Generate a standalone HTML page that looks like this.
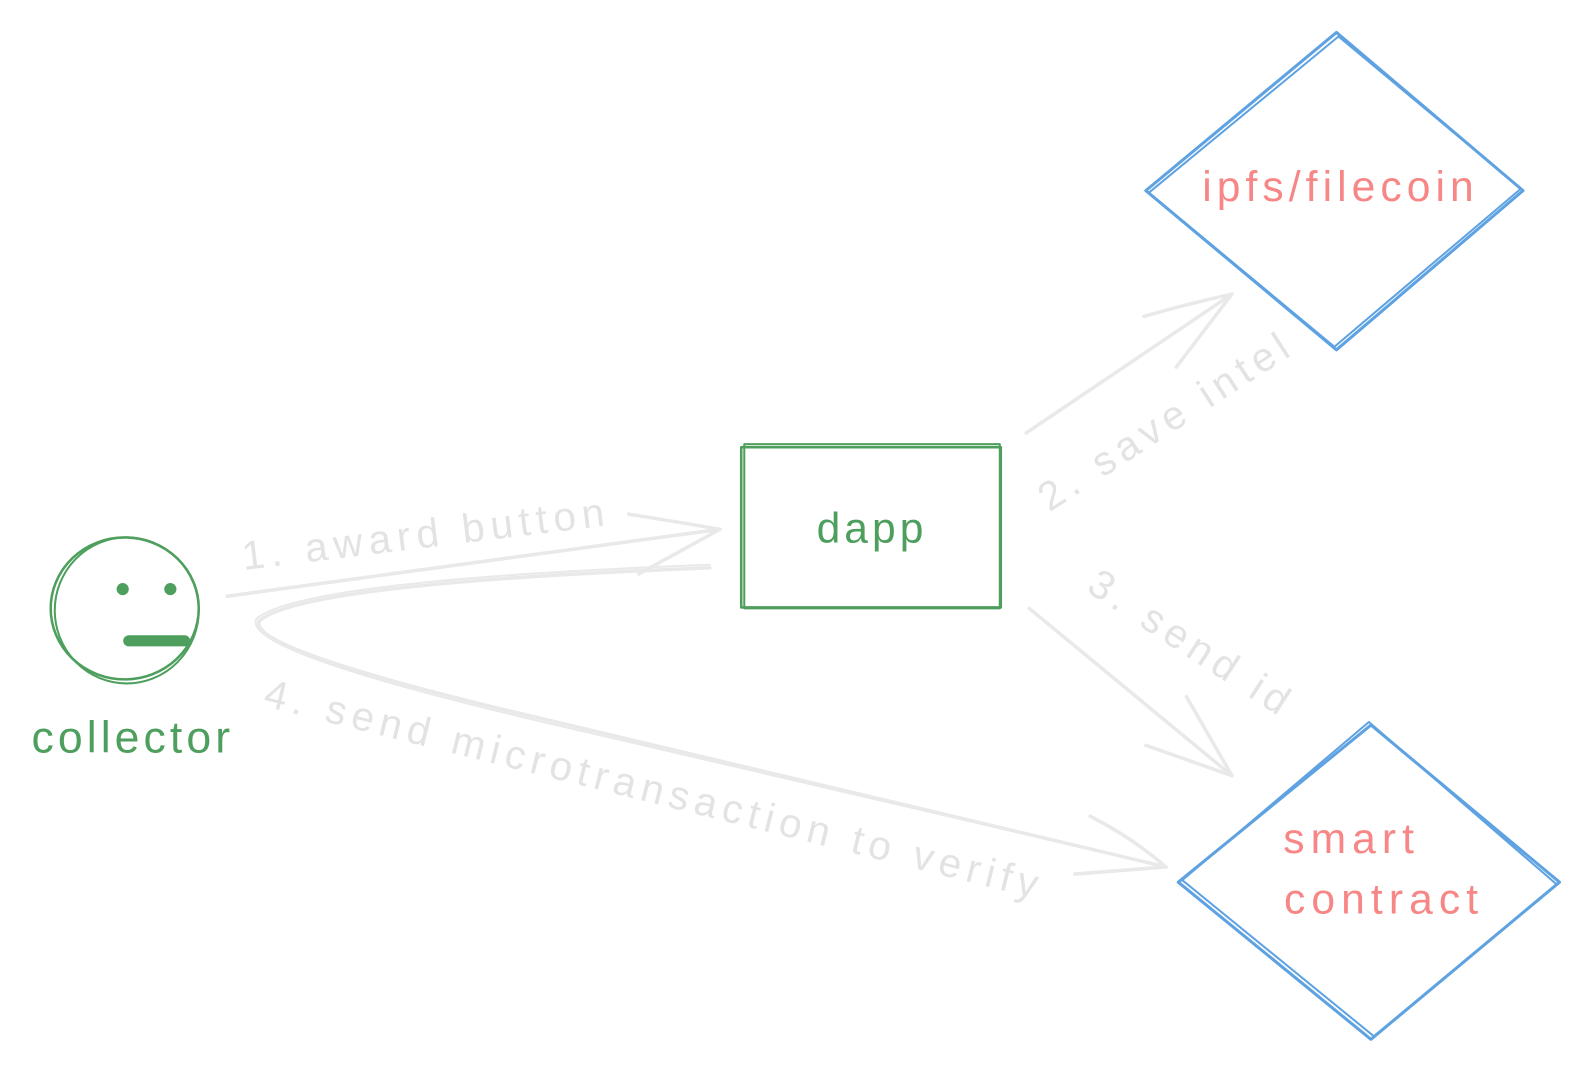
<!DOCTYPE html>
<html><head><meta charset="utf-8"><style>
html,body{margin:0;padding:0;background:#fff;}
svg{display:block;}
text{font-family:"Liberation Sans",sans-serif;}
</style></head><body>
<svg width="1590" height="1070" viewBox="0 0 1590 1070" xmlns="http://www.w3.org/2000/svg">
<g transform="scale(1.014)">
<g fill="none" stroke-linecap="round" stroke-linejoin="round">
<ellipse cx="123" cy="600" rx="73" ry="70" stroke="#4e9f5e" stroke-width="2.5"/>
<ellipse cx="125" cy="602" rx="71" ry="72" stroke="#4e9f5e" stroke-width="2"/>
<line x1="127" y1="632" x2="182" y2="632" stroke="#4e9f5e" stroke-width="11"/>
<rect x="731" y="441" width="256" height="158" stroke="#4e9f5e" stroke-width="2.5"/>
<rect x="734" y="438" width="252" height="162" stroke="#4e9f5e" stroke-width="2"/>
<polygon points="1318,32 1502,188 1318,345 1130,188" stroke="#5ea2e2" stroke-width="3"/>
<polygon points="1320,36 1500,186 1316,342 1133,190" stroke="#5ea2e2" stroke-width="2"/>
<polygon points="1352,715 1538,870 1352,1025 1162,870" stroke="#5ea2e2" stroke-width="3"/>
<polygon points="1350,712 1535,872 1355,1022 1166,868" stroke="#5ea2e2" stroke-width="2"/>
<g stroke="#e9e9e9" stroke-width="3.5">
<path d="M224 588 L710 522"/>
<path d="M620 507 Q670 515 710 522 L630 566"/>
<path d="M700 560 Q300 575 256 612 Q240 640 540 710 L1150 855"/>
<path d="M700 557 Q300 572 253 610 Q236 642 540 713 L1150 855" stroke-width="2"/>
<path d="M1075 805 Q1115 825 1150 855 L1060 862"/>
<path d="M1012 427 L1215 290"/>
<path d="M1128 312 Q1170 300 1215 290 L1160 362"/>
<path d="M1015 600 L1215 765"/>
<path d="M1170 687 Q1195 730 1215 765 L1130 735"/>
</g>
</g>
<g font-size="40" fill="#e3e3e3" letter-spacing="6">
<text x="420" y="540" text-anchor="middle" transform="rotate(-7 420 525)">1. award button</text>
<text x="1150" y="428" text-anchor="middle" transform="rotate(-33 1150 415)">2. save intel</text>
<text x="1175" y="648" text-anchor="middle" transform="rotate(33 1175 635)">3. send id</text>
<text x="645" y="792" text-anchor="middle" transform="rotate(14 645 780)">4. send microtransaction to verify</text>
</g>
<text x="131" y="742" text-anchor="middle" font-size="44" letter-spacing="4" fill="#4e9f5e">collector</text>
<text x="860" y="535" text-anchor="middle" font-size="42" letter-spacing="4" fill="#4e9f5e">dapp</text>
<text x="1322" y="198" text-anchor="middle" font-size="42" letter-spacing="5" fill="#f78787">ipfs/filecoin</text>
<text x="1333" y="841" text-anchor="middle" font-size="42" letter-spacing="6" fill="#f78787">smart</text>
<text x="1365" y="901" text-anchor="middle" font-size="42" letter-spacing="6" fill="#f78787">contract</text>
<circle cx="121" cy="581" r="6" fill="#4e9f5e"/>
<circle cx="168" cy="581" r="6" fill="#4e9f5e"/>
</g>
</svg>
</body></html>
